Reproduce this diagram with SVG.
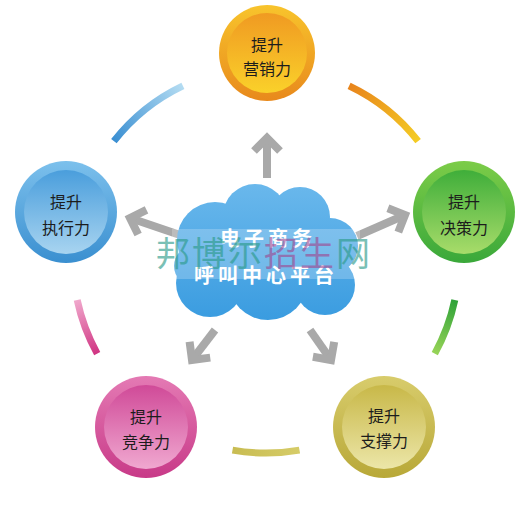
<svg xmlns="http://www.w3.org/2000/svg" width="526" height="510" viewBox="0 0 526 510">
<style>
.lbl{font-family:"Noto Sans CJK SC","Noto Sans",sans-serif;font-size:16px;fill:#1c1c1c;text-anchor:middle}
.ctext{font-family:"Noto Sans CJK SC","Noto Sans",sans-serif;font-size:20px;font-weight:bold;fill:#ffffff;text-anchor:middle;letter-spacing:4px}
.arc{fill:none;stroke-width:7}
.arrow{fill:none;stroke:#a9a9a9;stroke-width:8}
.wm{font-family:"Noto Sans CJK SC","Noto Sans",sans-serif;font-size:34px;opacity:0.62}
</style>
<defs>
<marker id="ah" markerUnits="userSpaceOnUse" markerWidth="40" markerHeight="40" viewBox="-20 -20 40 40" refX="0" refY="0" orient="auto" overflow="visible">
<path d="M-13,-13 L0,0 L-13,13" fill="none" stroke="#a9a9a9" stroke-width="8"/>
</marker>
<linearGradient id="oO" x1="0" y1="0" x2="0" y2="1"><stop offset="0" stop-color="#f8c42c"/><stop offset="1" stop-color="#e8891c"/></linearGradient>
<linearGradient id="oI" x1="0" y1="0" x2="0" y2="1"><stop offset="0" stop-color="#f09a22"/><stop offset="1" stop-color="#fad12a"/></linearGradient>
<linearGradient id="bO" x1="0" y1="0" x2="0" y2="1"><stop offset="0" stop-color="#7cc0ec"/><stop offset="1" stop-color="#3a8fd0"/></linearGradient>
<linearGradient id="bI" x1="0" y1="0" x2="0" y2="1"><stop offset="0" stop-color="#4a9edc"/><stop offset="1" stop-color="#a8d4f0"/></linearGradient>
<linearGradient id="gO" x1="0" y1="0" x2="0" y2="1"><stop offset="0" stop-color="#7ccc48"/><stop offset="1" stop-color="#3aa83a"/></linearGradient>
<linearGradient id="gI" x1="0" y1="0" x2="0" y2="1"><stop offset="0" stop-color="#3fae3a"/><stop offset="1" stop-color="#a8dc6a"/></linearGradient>
<linearGradient id="pO" x1="0" y1="0" x2="0" y2="1"><stop offset="0" stop-color="#e47ab4"/><stop offset="1" stop-color="#c83a88"/></linearGradient>
<linearGradient id="pI" x1="0" y1="0" x2="0" y2="1"><stop offset="0" stop-color="#d04a98"/><stop offset="1" stop-color="#f0a8d0"/></linearGradient>
<linearGradient id="yO" x1="0" y1="0" x2="0" y2="1"><stop offset="0" stop-color="#d8cc6c"/><stop offset="1" stop-color="#b8a838"/></linearGradient>
<linearGradient id="yI" x1="0" y1="0" x2="0" y2="1"><stop offset="0" stop-color="#c8b848"/><stop offset="1" stop-color="#ece6a8"/></linearGradient>
<linearGradient id="cloudG" gradientUnits="userSpaceOnUse" x1="0" y1="183" x2="0" y2="320"><stop offset="0" stop-color="#6ab8ec"/><stop offset="1" stop-color="#3a9ce0"/></linearGradient>
<linearGradient id="aB" gradientUnits="userSpaceOnUse" x1="114" y1="141" x2="183" y2="86"><stop offset="0" stop-color="#3a8fd2"/><stop offset="1" stop-color="#b4dcf2"/></linearGradient>
<linearGradient id="aO" gradientUnits="userSpaceOnUse" x1="349" y1="86" x2="418" y2="141"><stop offset="0" stop-color="#e8841c"/><stop offset="1" stop-color="#f4cc24"/></linearGradient>
<linearGradient id="aG" gradientUnits="userSpaceOnUse" x1="455" y1="300" x2="435" y2="354"><stop offset="0" stop-color="#2ea238"/><stop offset="1" stop-color="#98d458"/></linearGradient>
<linearGradient id="aY" gradientUnits="userSpaceOnUse" x1="232" y1="450" x2="300" y2="450"><stop offset="0" stop-color="#c8bc52"/><stop offset="1" stop-color="#d6cc68"/></linearGradient>
<linearGradient id="aP" gradientUnits="userSpaceOnUse" x1="77" y1="300" x2="97" y2="354"><stop offset="0" stop-color="#f0a8cc"/><stop offset="1" stop-color="#d03482"/></linearGradient>
</defs>

<g id="ring">
<path class="arc" stroke="url(#aB)" d="M113.9,141.1 A193,193 0 0 1 182.9,85.8"/>
<path class="arc" stroke="url(#aO)" d="M349.1,85.8 A193,193 0 0 1 418.1,141.1"/>
<path class="arc" stroke="url(#aG)" d="M454.8,300.1 A193,193 0 0 1 434.8,353.6"/>
<path class="arc" stroke="url(#aY)" d="M299.5,450.1 A193,193 0 0 1 232.5,450.1"/>
<path class="arc" stroke="url(#aP)" d="M97.2,353.6 A193,193 0 0 1 77.2,300.1"/>
</g>

<g id="connectors">
<path class="arrow" marker-end="url(#ah)" d="M267,178 L267,138"/>
<path class="arrow" marker-end="url(#ah)" d="M183,236 L130,218"/>
<path class="arrow" marker-end="url(#ah)" d="M357,236 L405,215"/>
<path class="arrow" marker-end="url(#ah)" d="M215,330 L192,360"/>
<path class="arrow" marker-end="url(#ah)" d="M310,330 L331,360"/>
</g>

<g id="cloud">
<g fill="url(#cloudG)">
<circle cx="215" cy="240" r="38"/>
<circle cx="255" cy="216" r="32"/>
<circle cx="300" cy="217" r="30"/>
<circle cx="330" cy="246" r="28"/>
<circle cx="325" cy="285" r="30"/>
<circle cx="268" cy="280" r="40"/>
<circle cx="210" cy="283" r="34"/>
<circle cx="194" cy="266" r="20"/>
<ellipse cx="268" cy="258" rx="70" ry="45"/>
</g>
<rect x="172" y="229" width="188" height="50" fill="#ffffff" opacity="0.22"/>
<text class="ctext" x="268" y="246">电子商务</text>
<text class="ctext" x="266" y="283">呼叫中心平台</text>
</g>

<g id="node-marketing">
<circle cx="267" cy="53" r="48" fill="url(#oO)"/>
<circle cx="267" cy="53" r="40" fill="url(#oI)"/>
<text class="lbl" x="267" y="51">提升</text>
<text class="lbl" x="267" y="75">营销力</text>
</g>

<g id="node-execution">
<circle cx="66" cy="212" r="51" fill="url(#bO)"/>
<circle cx="66" cy="212" r="42" fill="url(#bI)"/>
<text class="lbl" x="66" y="208">提升</text>
<text class="lbl" x="66" y="234">执行力</text>
</g>

<g id="node-decision">
<circle cx="464" cy="212" r="51" fill="url(#gO)"/>
<circle cx="464" cy="212" r="42" fill="url(#gI)"/>
<text class="lbl" x="464" y="208">提升</text>
<text class="lbl" x="464" y="234">决策力</text>
</g>

<g id="node-competition">
<circle cx="146" cy="427" r="51" fill="url(#pO)"/>
<circle cx="146" cy="427" r="42" fill="url(#pI)"/>
<text class="lbl" x="146" y="423">提升</text>
<text class="lbl" x="146" y="448">竞争力</text>
</g>

<g id="node-support">
<circle cx="384" cy="427" r="51" fill="url(#yO)"/>
<circle cx="384" cy="427" r="42" fill="url(#yI)"/>
<text class="lbl" x="384" y="422">提升</text>
<text class="lbl" x="384" y="447">支撑力</text>
</g>

<text class="wm" x="156" y="266" letter-spacing="2"><tspan fill="#2a9a88">邦博尔</tspan><tspan fill="#a04890">招生</tspan><tspan fill="#2a9a88">网</tspan></text>
</svg>
